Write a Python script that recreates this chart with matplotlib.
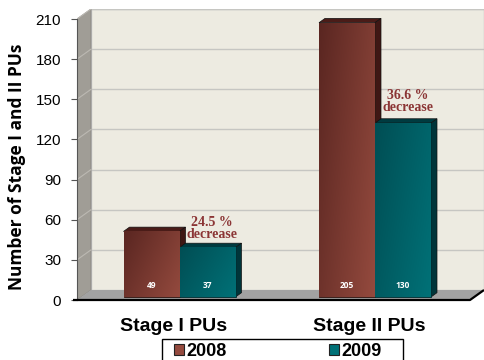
import numpy as np
import matplotlib.pyplot as plt
from matplotlib.patches import Polygon, Patch, Rectangle

# data
categories = ["Stage I PUs", "Stage II PUs"]
years = ["2008", "2009"]
counts_2008 = [49, 205]
counts_2009 = [37, 130]
changes = ["24.5 %\ndecrease", "36.6 %\ndecrease"]
yticks = [0, 30, 60, 90, 120, 150, 180, 210]

# styling
front_cols = [("#5a2621", "#944a3e"), ("#004e54", "#007177")]
top_cols = ["#4a1c18", "#003b40"]
side_cols = ["#3f1714", "#00353a"]
wall_col = "#edebe1"
side_wall_col = "#a09d96"
floor_col = "#a2a2a2"
note_col = "#8b3535"

W, H = 484, 360
fig = plt.figure(figsize=(W / 100, H / 100), dpi=100)
fig.patch.set_facecolor("white")

# front plane: y=0 at 300px, y=210 at 19px; group centres at 179.5px and 375px
ppu_y = 281 / 210
ppu_x = 195.5
ax = fig.add_axes([77 / W, 60 / H, (484 - 77) / W, (300 - 9) / H])
x0 = -(179.5 - 77) / ppu_x
x1 = 1 + (484 - 375) / ppu_x
ymax = (300 - 9) / ppu_y
DX, DY = 14 / ppu_x, 10 / ppu_y          # wall depth
BDX, BDY = 6 / ppu_x, 4.3 / ppu_y        # bar depth
LIFT = 3 / ppu_y                          # bars sit slightly behind the front edge
xr = x1 - DX
top = yticks[-1]

ax.set_xlim(x0, x1)
ax.set_ylim(0, ymax)
for s in ["top", "right", "bottom"]:
    ax.spines[s].set_visible(False)
ax.spines["left"].set_bounds(0, top)
ax.spines["left"].set_color("#555555")
ax.spines["left"].set_linewidth(0.8)
ax.spines["left"].set_zorder(6)
ax.set_xticks([])
ax.set_yticks(yticks)
ax.tick_params(axis="y", length=4.5, width=0.8, color="#555555", pad=7)
for lab in ax.get_yticklabels():
    lab.set_fontsize(11)
    lab.set_family("Liberation Sans")
ax.patch.set_alpha(0)

# walls and floor
ax.add_patch(Polygon([(x0 + DX, DY), (x1, DY), (x1, top + DY), (x0 + DX, top + DY)],
                     closed=True, facecolor=wall_col, edgecolor="#c4c4c4", lw=1, zorder=0))
ax.add_patch(Polygon([(x0, 0), (x0, top), (x0 + DX, top + DY), (x0 + DX, DY)],
                     closed=True, facecolor=side_wall_col, edgecolor="#8a8782", lw=0.6, zorder=1))
ax.add_patch(Polygon([(x0, 0), (xr, 0), (x1, DY), (x0 + DX, DY)],
                     closed=True, facecolor=floor_col, edgecolor="none", zorder=1))
ax.plot([x0 - 4 / ppu_x, xr, x1], [0, 0, DY], color="black", lw=1.6, zorder=7,
        clip_on=False, solid_capstyle="butt")
for v in yticks[1:]:
    ax.plot([x0 + DX, x1], [v + DY, v + DY], color="#c6c6c2", lw=1, zorder=0.5)
    ax.plot([x0, x0 + DX], [v, v + DY], color="#bcb9b3", lw=0.8, zorder=1.5)

# bars with shaded front faces
width = 56 / ppu_x
xs = np.arange(len(categories))
grad = np.linspace(0, 1, 64)
gx, gy = np.meshgrid(grad, grad[::-1])
shade = 0.65 * gx + 0.35 * (1 - gy)
for k, (vals, yr) in enumerate(zip([counts_2008, counts_2009], years)):
    lefts = xs - width + k * width
    bars = ax.bar(lefts, vals, width=width, bottom=LIFT, align="edge",
                  color=front_cols[k][1], edgecolor="#2a1410" if k == 0 else "#002a2e",
                  lw=0.6, zorder=3)
    c0 = np.array(plt.matplotlib.colors.to_rgb(front_cols[k][0]))
    c1 = np.array(plt.matplotlib.colors.to_rgb(front_cols[k][1]))
    img = c0[None, None, :] + shade[:, :, None] * (c1 - c0)[None, None, :]
    for b, v in zip(bars, vals):
        l, w_ = b.get_x(), b.get_width()
        t = LIFT + v
        im = ax.imshow(img, extent=[l, l + w_, LIFT, t], aspect="auto",
                       zorder=3.1, interpolation="bilinear")
        im.set_clip_path(b)
        ax.add_patch(Polygon([(l, t), (l + w_, t), (l + w_ + BDX, t + BDY), (l + BDX, t + BDY)],
                             closed=True, facecolor=top_cols[k], edgecolor="#111111",
                             lw=0.5, zorder=2.9))
        ax.add_patch(Polygon([(l + w_, LIFT), (l + w_, t), (l + w_ + BDX, t + BDY),
                              (l + w_ + BDX, LIFT + BDY)],
                             closed=True, facecolor=side_cols[k], edgecolor="#111111",
                             lw=0.5, zorder=2.9))
        ax.text(l + w_ / 2, LIFT + 8.5, str(v), ha="center", va="center", color="white",
                fontsize=6, fontweight="bold", family="Open Sans", zorder=5)

ax.set_xlim(x0, x1)
ax.set_ylim(0, ymax)

# change notes above the 2009 bars
note_dy = [4.9, 7.0]
for i, (txt, v) in enumerate(zip(changes, counts_2009)):
    ax.text(xs[i] + 0.167, v + LIFT + note_dy[i], txt, ha="center", va="bottom",
            color=note_col, fontsize=10, fontweight="bold", family="Liberation Serif",
            linespacing=0.9, zorder=6)

# category labels
for i, c in enumerate(categories):
    ax.text(xs[i] - 0.029, -19.5, c, ha="center", va="center", fontsize=14,
            fontweight="bold", family="Liberation Sans", clip_on=False)

ax.set_ylabel("Number of Stage I and II PUs", fontsize=12.5, fontweight="bold",
              family="Open Sans")
ax.yaxis.set_label_coords((26 - 77) / 407, 0.457)

# legend with a plain box whose bottom runs off the figure
handles = [Patch(facecolor=front_cols[k][1], edgecolor="#222222", lw=0.8) for k in range(2)]
leg = fig.legend(handles, years, loc="center left", bbox_to_anchor=(174 / W, 1 - 351 / H),
                 ncol=2, frameon=False,
                 prop={"family": "Liberation Sans", "weight": "bold", "size": 13},
                 handlelength=0.55, handleheight=0.55, handletextpad=0.12,
                 columnspacing=5.7, borderpad=0, borderaxespad=0)
fig.add_artist(Rectangle((162 / W, -0.02), (403 - 162) / W, (360 - 339) / H + 0.02,
                         transform=fig.transFigure, facecolor="none",
                         edgecolor="black", lw=1.0))

fig.savefig("out.png", dpi=100)
